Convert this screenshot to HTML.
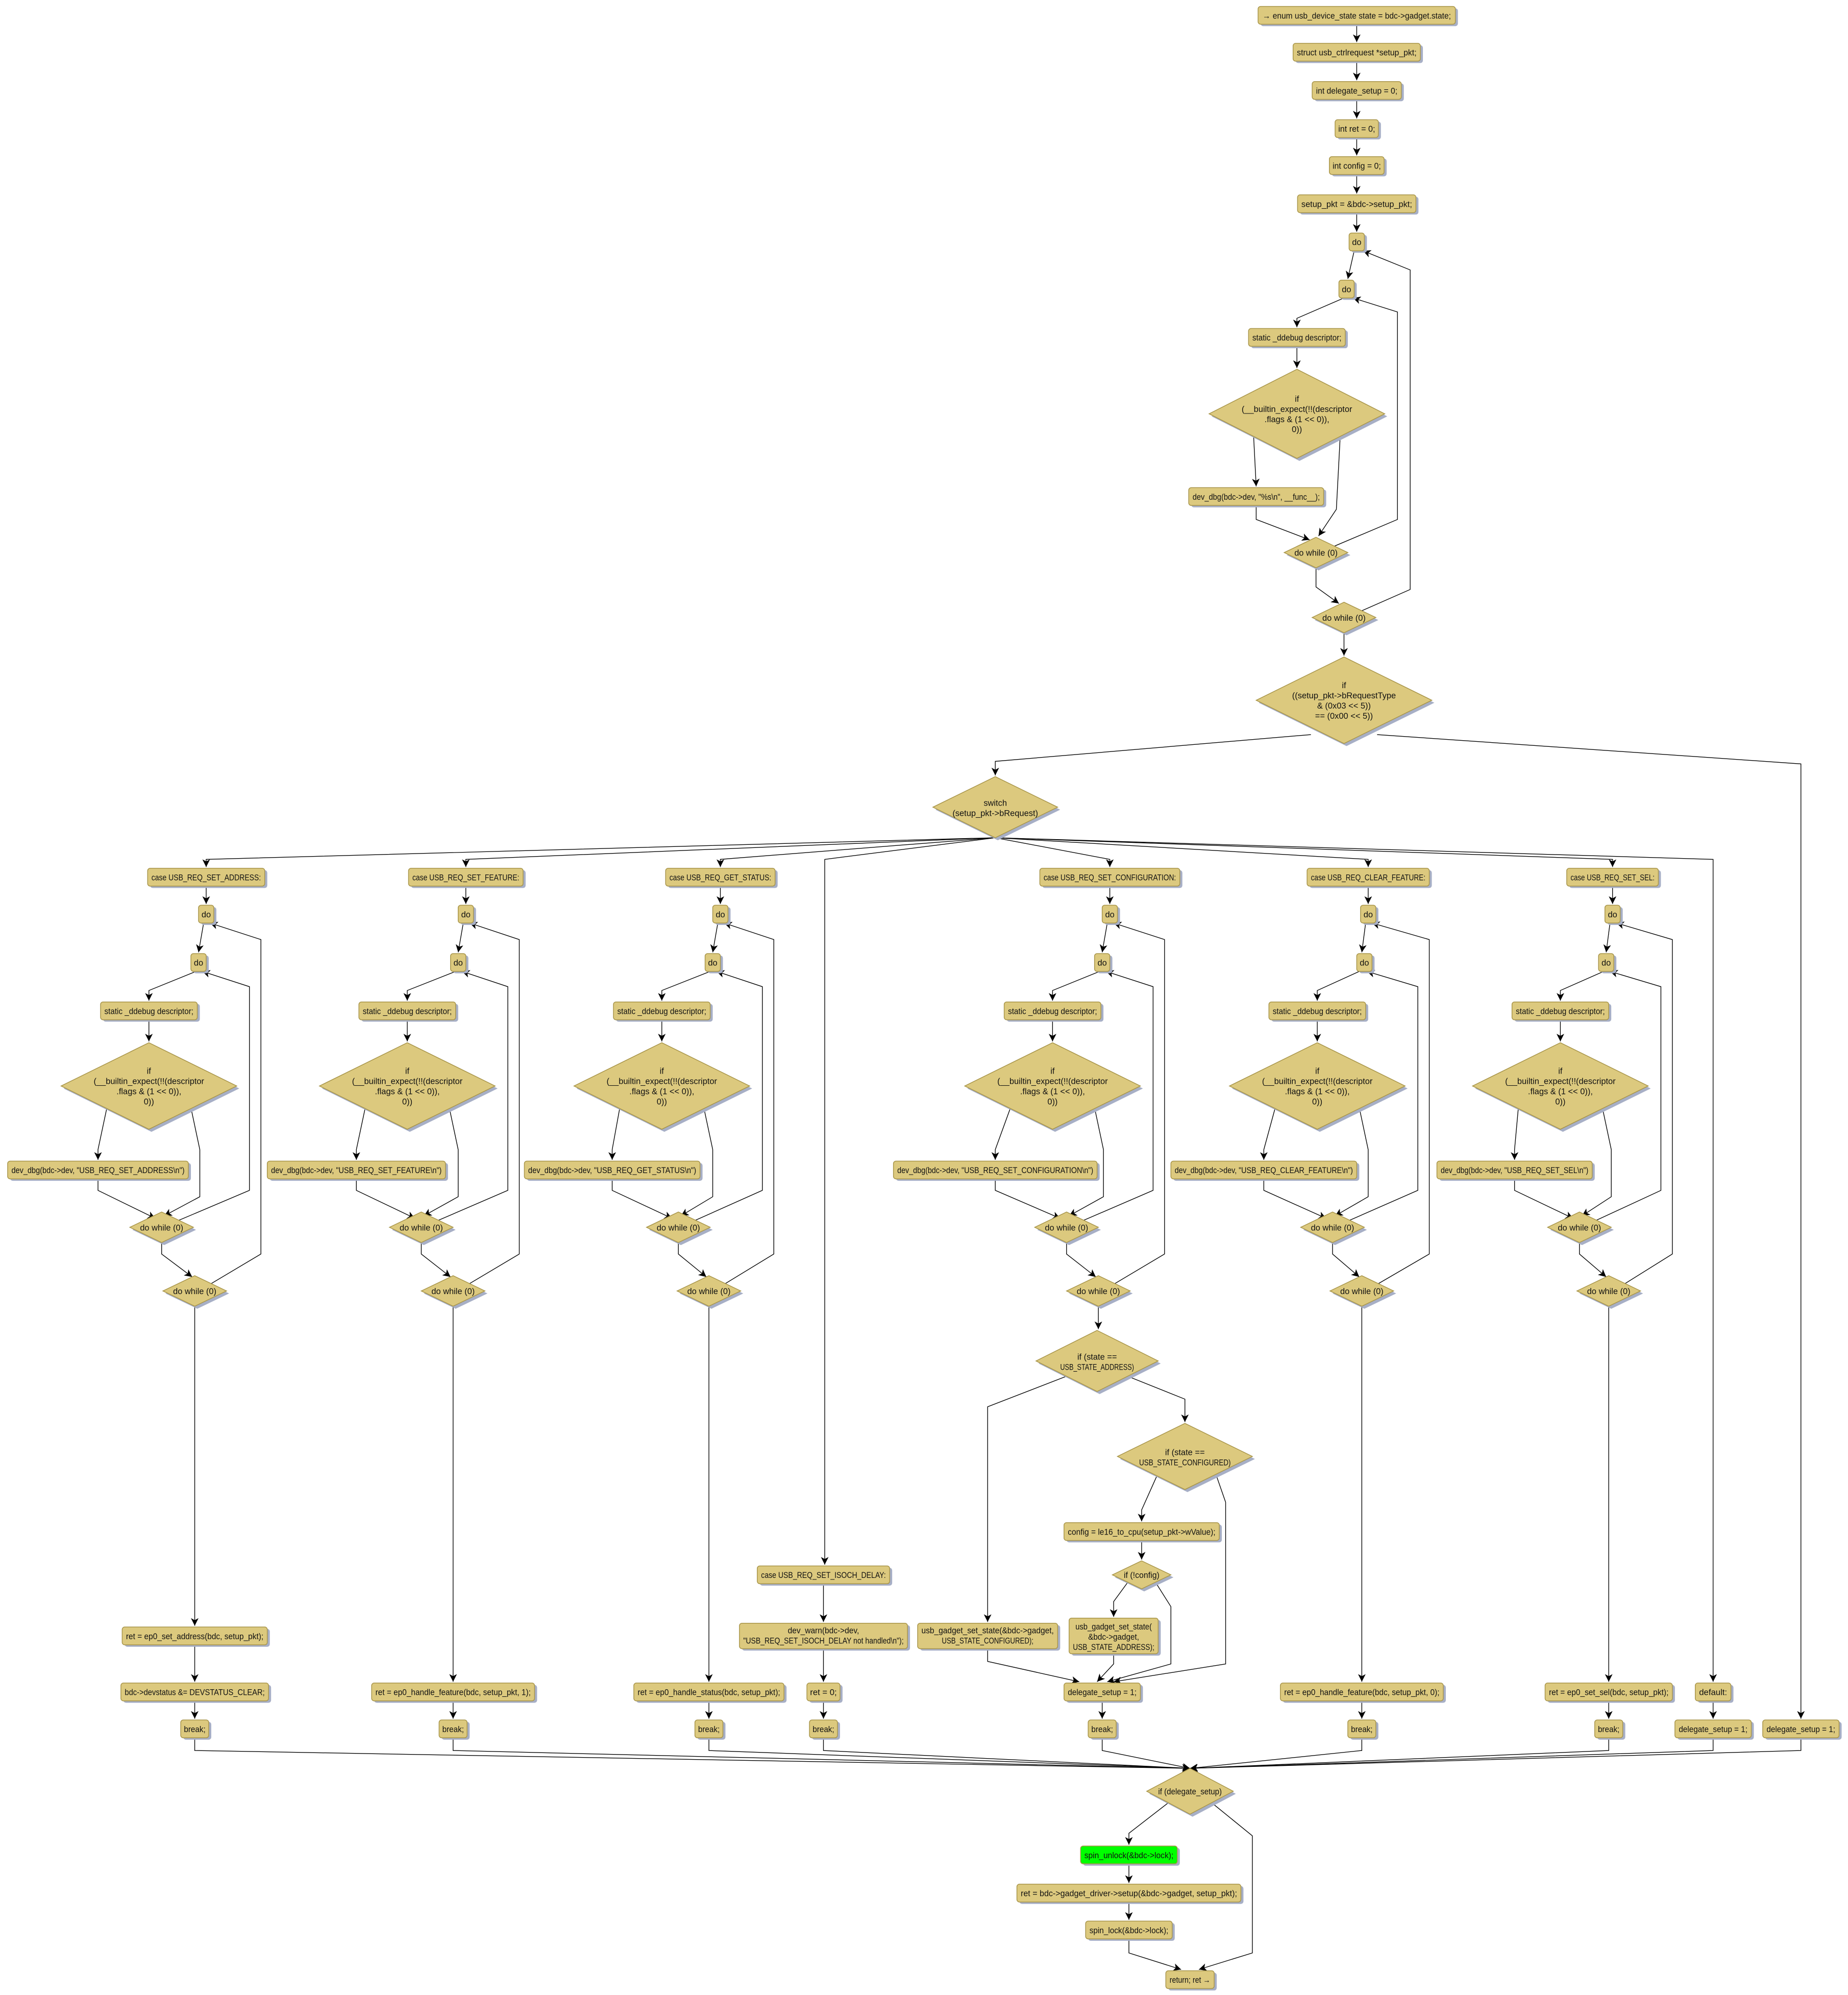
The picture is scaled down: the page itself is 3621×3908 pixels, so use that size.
<!DOCTYPE html>
<html><head><meta charset="utf-8">
<style>
html,body{margin:0;padding:0;background:#fff;}
svg{display:block;}
.b{fill:#dcc97e;stroke:#a8954a;stroke-width:0.6;}
.g{fill:#00ff00;stroke:#a8954a;stroke-width:0.6;}
.s{fill:#a7afc6;}
path{fill:none;stroke:#000;stroke-width:0.55;marker-end:url(#ar);}
path.n{marker-end:none;}
text{font-family:"Liberation Sans",sans-serif;font-size:6.6px;fill:#111;text-anchor:middle;}
</style></head><body>
<svg width="3621" height="3908" viewBox="0 0 1452 1567" xmlns="http://www.w3.org/2000/svg">
<defs><marker id="ar" markerUnits="userSpaceOnUse" markerWidth="7" markerHeight="6" refX="6" refY="3" orient="auto"><path d="M0,0 L6,3 L0,6 L1.6,3 z" style="fill:#000;stroke:none;marker-end:none"/></marker></defs>

<!-- EDGES main -->
<path d="M1066,19V33"/><path d="M1066,48V63"/><path d="M1066,78V93"/><path d="M1066,108V122"/><path d="M1066,137V152"/><path d="M1066,167V182"/>
<path d="M1064,197L1059,219"/><path d="M1056,234L1019,250V257"/><path d="M1019,272V289"/><path d="M985,343L987,382"/><path d="M1053,343L1050,400L1036,421"/><path d="M987,397V408L1029,424"/><path d="M1046,430L1098,408V245L1063,234"/><path d="M1034,446V461L1052,474"/><path d="M1067,481L1108,463V212L1071,197"/><path d="M1056,497V515"/><path d="M1030,577L782,598V609"/><path d="M1082,577L1415,600V1350"/>
<path d="M782,658L162,675V681"/><path d="M782,658L366,675V681"/><path d="M782,658L566,675V681"/><path d="M782,658L648,675V1229"/><path d="M782,658L872,675V681"/><path d="M782,658L1075,675V681"/><path d="M782,658L1267,675V681"/><path d="M782,658L1346,675V1321"/>
<!-- col A -->
<path d="M162,697V710"/><path d="M160,725L156,748"/><path d="M154,763L117,778V786"/><path d="M117,801V818"/><path d="M84,870L77,903V911"/><path d="M150,870L157,903V940L129,955"/><path d="M77,926V935L122,957"/><path d="M137,960L196,935V775L159,763"/><path d="M127,976V985L151,1003"/><path d="M163,1010L205,985V738L165,725"/><path d="M153,1026V1277"/><path d="M153,1292V1321"/><path d="M153,1336V1350"/>
<!-- col B -->
<path d="M366,697V710"/><path d="M364,725L360,748"/><path d="M358,763L320,778V786"/><path d="M320,801V818"/><path d="M287,870L280,903V911"/><path d="M353,870L360,903V940L333,955"/><path d="M280,926V935L326,957"/><path d="M341,960L399,935V775L363,763"/><path d="M331,976V985L354,1003"/><path d="M366,1010L408,985V738L369,725"/><path d="M356,1026V1321"/><path d="M356,1336V1350"/>
<!-- col C -->
<path d="M566,697V710"/><path d="M564,725L560,748"/><path d="M558,763L520,778V786"/><path d="M520,801V818"/><path d="M487,870L481,903V911"/><path d="M553,870L560,903V940L535,955"/><path d="M481,926V935L528,957"/><path d="M543,960L599,935V775L563,763"/><path d="M533,976V985L555,1003"/><path d="M567,1010L608,985V738L569,725"/><path d="M557,1026V1321"/><path d="M557,1336V1350"/>
<!-- col D -->
<path d="M647,1244V1274"/><path d="M647,1295V1321"/><path d="M647,1336V1350"/>
<!-- col E -->
<path d="M872,697V710"/><path d="M870,725L866,748"/><path d="M864,763L827,778V786"/><path d="M827,801V818"/><path d="M794,870L782,903V911"/><path d="M860,870L867,903V940L840,955"/><path d="M782,926V935L833,957"/><path d="M848,960L906,935V775L869,763"/><path d="M838,976V985L861,1003"/><path d="M873,1010L915,985V738L875,725"/><path d="M863,1026V1044"/>
<path d="M838,1081L776,1105V1274"/><path d="M886,1081L931,1099V1117"/><path d="M910,1157L897,1186V1195"/><path d="M897,1210V1225"/><path d="M886,1243L875,1258V1270"/><path d="M776,1295V1305L848,1321"/><path d="M875,1299V1307L862,1321"/><path d="M908,1243L920,1262V1307L870,1321"/><path d="M955,1157L963,1180V1307L875,1321"/><path d="M866,1336V1350"/>
<!-- col F -->
<path d="M1075,697V710"/><path d="M1073,725L1070,748"/><path d="M1068,763L1035,778V786"/><path d="M1035,801V818"/><path d="M1002,870L993,903V911"/><path d="M1068,870L1075,903V940L1049,955"/><path d="M993,926V935L1042,957"/><path d="M1057,960L1114,935V775L1074,763"/><path d="M1047,976V985L1068,1003"/><path d="M1080,1010L1123,985V738L1078,725"/><path d="M1070,1026V1321"/><path d="M1070,1336V1350"/>
<!-- col G -->
<path d="M1267,697V710"/><path d="M1265,725L1262,748"/><path d="M1260,763L1226,778V786"/><path d="M1226,801V818"/><path d="M1193,870L1190,903V911"/><path d="M1259,870L1266,903V940L1243,955"/><path d="M1190,926V935L1236,957"/><path d="M1251,960L1305,935V775L1265,763"/><path d="M1241,976V985L1262,1003"/><path d="M1274,1010L1314,985V738L1270,725"/><path d="M1264,1026V1321"/><path d="M1264,1336V1350"/>
<path d="M1346,1336V1350"/>
<!-- merge -->
<path d="M153,1365V1375L935,1389"/><path d="M356,1365V1375L935,1389"/><path d="M557,1365V1375L935,1389"/><path d="M647,1365V1375L935,1389"/><path d="M866,1365V1375L935,1389"/><path d="M1070,1365V1375L935,1389"/><path d="M1264,1365V1375L935,1389"/><path d="M1346,1365V1375L935,1389"/><path d="M1415,1365V1375L935,1389"/>
<path d="M918,1416L887,1440V1449"/><path d="M887,1464V1479"/><path d="M887,1494V1508"/><path d="M887,1523V1534L928,1547"/><path d="M952,1416L984,1442V1534L942,1547"/>

<!-- MAIN COLUMN -->
<g>
<rect class="s" x="990.5" y="6.5" width="155" height="14" rx="2"/><rect class="b" x="988.5" y="5" width="155" height="14" rx="2"/><text x="1066" y="14.5" textLength="148" lengthAdjust="spacingAndGlyphs">→ enum usb_device_state state = bdc-&gt;gadget.state;</text>
<rect class="s" x="1018" y="35.5" width="100" height="14" rx="2"/><rect class="b" x="1016" y="34" width="100" height="14" rx="2"/><text x="1066" y="43.5" textLength="94" lengthAdjust="spacingAndGlyphs">struct usb_ctrlrequest *setup_pkt;</text>
<rect class="s" x="1033" y="65.5" width="70" height="14" rx="2"/><rect class="b" x="1031" y="64" width="70" height="14" rx="2"/><text x="1066" y="73.5" textLength="64" lengthAdjust="spacingAndGlyphs">int delegate_setup = 0;</text>
<rect class="s" x="1051" y="95.5" width="34" height="14" rx="2"/><rect class="b" x="1049" y="94" width="34" height="14" rx="2"/><text x="1066" y="103.5" textLength="29" lengthAdjust="spacingAndGlyphs">int ret = 0;</text>
<rect class="s" x="1046.5" y="124.5" width="43" height="14" rx="2"/><rect class="b" x="1044.5" y="123" width="43" height="14" rx="2"/><text x="1066" y="132.5" textLength="38" lengthAdjust="spacingAndGlyphs">int config = 0;</text>
<rect class="s" x="1021.5" y="154.5" width="93" height="14" rx="2"/><rect class="b" x="1019.5" y="153" width="93" height="14" rx="2"/><text x="1066" y="162.5" textLength="87" lengthAdjust="spacingAndGlyphs">setup_pkt = &amp;bdc-&gt;setup_pkt;</text>
<rect class="s" x="1062" y="184.5" width="12" height="14" rx="2"/><rect class="b" x="1060" y="183" width="12" height="14" rx="2"/><text x="1066" y="192.5">do</text>
<rect class="s" x="1054" y="221.5" width="12" height="14" rx="2"/><rect class="b" x="1052" y="220" width="12" height="14" rx="2"/><text x="1058" y="229.5">do</text>
<rect class="s" x="983" y="259.5" width="76" height="14" rx="2"/><rect class="b" x="981" y="258" width="76" height="14" rx="2"/><text x="1019" y="267.5" textLength="70" lengthAdjust="spacingAndGlyphs">static _ddebug descriptor;</text>
<polygon class="s" points="1021,292 1090,327 1021,362 952,327"/><polygon class="b" points="1019,290 1088,325 1019,360 950,325"/>
<text x="1019" y="315.5">if</text><text x="1019" y="323.5">(__builtin_expect(!!(descriptor</text><text x="1019" y="331.5">.flags &amp; (1 &lt;&lt; 0)),</text><text x="1019" y="339.5">0))</text>
<rect class="s" x="936" y="384.5" width="106" height="14" rx="2"/><rect class="b" x="934" y="383" width="106" height="14" rx="2"/><text x="987" y="392.5" textLength="100" lengthAdjust="spacingAndGlyphs">dev_dbg(bdc-&gt;dev, "%s\n", __func__);</text>
<polygon class="s" points="1036,424 1061,436 1036,448 1011,436"/><polygon class="b" points="1034,422 1059,434 1034,446 1009,434"/><text x="1034" y="436.5" textLength="34" lengthAdjust="spacingAndGlyphs">do while (0)</text>
<polygon class="s" points="1058,475 1083,487 1058,499 1033,487"/><polygon class="b" points="1056,473 1081,485 1056,497 1031,485"/><text x="1056" y="487.5" textLength="34" lengthAdjust="spacingAndGlyphs">do while (0)</text>
<polygon class="s" points="1058,518 1127,552 1058,586 989,552"/><polygon class="b" points="1056,516 1125,550 1056,584 987,550"/>
<text x="1056" y="540.5">if</text><text x="1056" y="548.5">((setup_pkt-&gt;bRequestType</text><text x="1056" y="556.5">&amp; (0x03 &lt;&lt; 5))</text><text x="1056" y="564.5">== (0x00 &lt;&lt; 5))</text>
<polygon class="s" points="784,612 833,636 784,660 735,636"/><polygon class="b" points="782,610 831,634 782,658 733,634"/>
<text x="782" y="633">switch</text><text x="782" y="641">(setup_pkt-&gt;bRequest)</text>
</g>

<!-- COLUMN A -->
<g>
<rect class="s" x="118" y="683.5" width="92" height="14" rx="2"/><rect class="b" x="116" y="682" width="92" height="14" rx="2"/><text x="162" y="691.5" textLength="86" lengthAdjust="spacingAndGlyphs">case USB_REQ_SET_ADDRESS:</text>
<rect class="s" x="158" y="712.5" width="12" height="14" rx="2"/><rect class="b" x="156" y="711" width="12" height="14" rx="2"/><text x="162" y="720.5">do</text>
<rect class="s" x="152" y="750.5" width="12" height="14" rx="2"/><rect class="b" x="150" y="749" width="12" height="14" rx="2"/><text x="156" y="758.5">do</text>
<rect class="s" x="81" y="788.5" width="76" height="14" rx="2"/><rect class="b" x="79" y="787" width="76" height="14" rx="2"/><text x="117" y="796.5" textLength="70" lengthAdjust="spacingAndGlyphs">static _ddebug descriptor;</text>
<polygon class="s" points="119,821 188,855 119,889 50,855"/><polygon class="b" points="117,819 186,853 117,887 48,853"/>
<text x="117" y="843.5">if</text><text x="117" y="851.5">(__builtin_expect(!!(descriptor</text><text x="117" y="859.5">.flags &amp; (1 &lt;&lt; 0)),</text><text x="117" y="867.5">0))</text>
<rect class="s" x="8" y="913.5" width="142" height="14" rx="2"/><rect class="b" x="6" y="912" width="142" height="14" rx="2"/><text x="77" y="921.5" textLength="136" lengthAdjust="spacingAndGlyphs">dev_dbg(bdc-&gt;dev, "USB_REQ_SET_ADDRESS\n")</text>
<polygon class="s" points="129,954 154,966 129,978 104,966"/><polygon class="b" points="127,952 152,964 127,976 102,964"/><text x="127" y="966.5" textLength="34" lengthAdjust="spacingAndGlyphs">do while (0)</text>
<polygon class="s" points="155,1004 180,1016 155,1028 130,1016"/><polygon class="b" points="153,1002 178,1014 153,1026 128,1014"/><text x="153" y="1016.5" textLength="34" lengthAdjust="spacingAndGlyphs">do while (0)</text>
<rect class="s" x="98" y="1279.5" width="114" height="14" rx="2"/><rect class="b" x="96" y="1278" width="114" height="14" rx="2"/><text x="153" y="1287.5" textLength="108" lengthAdjust="spacingAndGlyphs">ret = ep0_set_address(bdc, setup_pkt);</text>
<rect class="s" x="97" y="1323.5" width="116" height="14" rx="2"/><rect class="b" x="95" y="1322" width="116" height="14" rx="2"/><text x="153" y="1331.5" textLength="110" lengthAdjust="spacingAndGlyphs">bdc-&gt;devstatus &amp;= DEVSTATUS_CLEAR;</text>
<rect class="s" x="144" y="1352.5" width="22" height="14" rx="2"/><rect class="b" x="142" y="1351" width="22" height="14" rx="2"/><text x="153" y="1360.5" textLength="17" lengthAdjust="spacingAndGlyphs">break;</text>
</g>

<!-- COLUMN B -->
<g>
<rect class="s" x="323" y="683.5" width="90" height="14" rx="2"/><rect class="b" x="321" y="682" width="90" height="14" rx="2"/><text x="366" y="691.5" textLength="84" lengthAdjust="spacingAndGlyphs">case USB_REQ_SET_FEATURE:</text>
<rect class="s" x="362" y="712.5" width="12" height="14" rx="2"/><rect class="b" x="360" y="711" width="12" height="14" rx="2"/><text x="366" y="720.5">do</text>
<rect class="s" x="356" y="750.5" width="12" height="14" rx="2"/><rect class="b" x="354" y="749" width="12" height="14" rx="2"/><text x="360" y="758.5">do</text>
<rect class="s" x="284" y="788.5" width="76" height="14" rx="2"/><rect class="b" x="282" y="787" width="76" height="14" rx="2"/><text x="320" y="796.5" textLength="70" lengthAdjust="spacingAndGlyphs">static _ddebug descriptor;</text>
<polygon class="s" points="322,821 391,855 322,889 253,855"/><polygon class="b" points="320,819 389,853 320,887 251,853"/>
<text x="320" y="843.5">if</text><text x="320" y="851.5">(__builtin_expect(!!(descriptor</text><text x="320" y="859.5">.flags &amp; (1 &lt;&lt; 0)),</text><text x="320" y="867.5">0))</text>
<rect class="s" x="212" y="913.5" width="140" height="14" rx="2"/><rect class="b" x="210" y="912" width="140" height="14" rx="2"/><text x="280" y="921.5" textLength="134" lengthAdjust="spacingAndGlyphs">dev_dbg(bdc-&gt;dev, "USB_REQ_SET_FEATURE\n")</text>
<polygon class="s" points="333,954 358,966 333,978 308,966"/><polygon class="b" points="331,952 356,964 331,976 306,964"/><text x="331" y="966.5" textLength="34" lengthAdjust="spacingAndGlyphs">do while (0)</text>
<polygon class="s" points="358,1004 383,1016 358,1028 333,1016"/><polygon class="b" points="356,1002 381,1014 356,1026 331,1014"/><text x="356" y="1016.5" textLength="34" lengthAdjust="spacingAndGlyphs">do while (0)</text>
<rect class="s" x="294" y="1323.5" width="128" height="14" rx="2"/><rect class="b" x="292" y="1322" width="128" height="14" rx="2"/><text x="356" y="1331.5" textLength="122" lengthAdjust="spacingAndGlyphs">ret = ep0_handle_feature(bdc, setup_pkt, 1);</text>
<rect class="s" x="347" y="1352.5" width="22" height="14" rx="2"/><rect class="b" x="345" y="1351" width="22" height="14" rx="2"/><text x="356" y="1360.5" textLength="17" lengthAdjust="spacingAndGlyphs">break;</text>
</g>

<!-- COLUMN C -->
<g>
<rect class="s" x="525" y="683.5" width="86" height="14" rx="2"/><rect class="b" x="523" y="682" width="86" height="14" rx="2"/><text x="566" y="691.5" textLength="80" lengthAdjust="spacingAndGlyphs">case USB_REQ_GET_STATUS:</text>
<rect class="s" x="562" y="712.5" width="12" height="14" rx="2"/><rect class="b" x="560" y="711" width="12" height="14" rx="2"/><text x="566" y="720.5">do</text>
<rect class="s" x="556" y="750.5" width="12" height="14" rx="2"/><rect class="b" x="554" y="749" width="12" height="14" rx="2"/><text x="560" y="758.5">do</text>
<rect class="s" x="484" y="788.5" width="76" height="14" rx="2"/><rect class="b" x="482" y="787" width="76" height="14" rx="2"/><text x="520" y="796.5" textLength="70" lengthAdjust="spacingAndGlyphs">static _ddebug descriptor;</text>
<polygon class="s" points="522,821 591,855 522,889 453,855"/><polygon class="b" points="520,819 589,853 520,887 451,853"/>
<text x="520" y="843.5">if</text><text x="520" y="851.5">(__builtin_expect(!!(descriptor</text><text x="520" y="859.5">.flags &amp; (1 &lt;&lt; 0)),</text><text x="520" y="867.5">0))</text>
<rect class="s" x="414" y="913.5" width="138" height="14" rx="2"/><rect class="b" x="412" y="912" width="138" height="14" rx="2"/><text x="481" y="921.5" textLength="132" lengthAdjust="spacingAndGlyphs">dev_dbg(bdc-&gt;dev, "USB_REQ_GET_STATUS\n")</text>
<polygon class="s" points="535,954 560,966 535,978 510,966"/><polygon class="b" points="533,952 558,964 533,976 508,964"/><text x="533" y="966.5" textLength="34" lengthAdjust="spacingAndGlyphs">do while (0)</text>
<polygon class="s" points="559,1004 584,1016 559,1028 534,1016"/><polygon class="b" points="557,1002 582,1014 557,1026 532,1014"/><text x="557" y="1016.5" textLength="34" lengthAdjust="spacingAndGlyphs">do while (0)</text>
<rect class="s" x="500" y="1323.5" width="118" height="14" rx="2"/><rect class="b" x="498" y="1322" width="118" height="14" rx="2"/><text x="557" y="1331.5" textLength="112" lengthAdjust="spacingAndGlyphs">ret = ep0_handle_status(bdc, setup_pkt);</text>
<rect class="s" x="548" y="1352.5" width="22" height="14" rx="2"/><rect class="b" x="546" y="1351" width="22" height="14" rx="2"/><text x="557" y="1360.5" textLength="17" lengthAdjust="spacingAndGlyphs">break;</text>
</g>

<!-- COLUMN D -->
<g>
<rect class="s" x="597" y="1231.5" width="104" height="14" rx="2"/><rect class="b" x="595" y="1230" width="104" height="14" rx="2"/><text x="647" y="1239.5" textLength="98" lengthAdjust="spacingAndGlyphs">case USB_REQ_SET_ISOCH_DELAY:</text>
<rect class="s" x="583" y="1276.5" width="132" height="20" rx="2"/><rect class="b" x="581" y="1275" width="132" height="20" rx="2"/><text x="647" y="1283" textLength="56" lengthAdjust="spacingAndGlyphs">dev_warn(bdc-&gt;dev,</text><text x="647" y="1291" textLength="126" lengthAdjust="spacingAndGlyphs">"USB_REQ_SET_ISOCH_DELAY not handled\n");</text>
<rect class="s" x="636" y="1323.5" width="26" height="14" rx="2"/><rect class="b" x="634" y="1322" width="26" height="14" rx="2"/><text x="647" y="1331.5" textLength="21" lengthAdjust="spacingAndGlyphs">ret = 0;</text>
<rect class="s" x="638" y="1352.5" width="22" height="14" rx="2"/><rect class="b" x="636" y="1351" width="22" height="14" rx="2"/><text x="647" y="1360.5" textLength="17" lengthAdjust="spacingAndGlyphs">break;</text>
</g>

<!-- COLUMN E -->
<g>
<rect class="s" x="819" y="683.5" width="110" height="14" rx="2"/><rect class="b" x="817" y="682" width="110" height="14" rx="2"/><text x="872" y="691.5" textLength="104" lengthAdjust="spacingAndGlyphs">case USB_REQ_SET_CONFIGURATION:</text>
<rect class="s" x="868" y="712.5" width="12" height="14" rx="2"/><rect class="b" x="866" y="711" width="12" height="14" rx="2"/><text x="872" y="720.5">do</text>
<rect class="s" x="862" y="750.5" width="12" height="14" rx="2"/><rect class="b" x="860" y="749" width="12" height="14" rx="2"/><text x="866" y="758.5">do</text>
<rect class="s" x="791" y="788.5" width="76" height="14" rx="2"/><rect class="b" x="789" y="787" width="76" height="14" rx="2"/><text x="827" y="796.5" textLength="70" lengthAdjust="spacingAndGlyphs">static _ddebug descriptor;</text>
<polygon class="s" points="829,821 898,855 829,889 760,855"/><polygon class="b" points="827,819 896,853 827,887 758,853"/>
<text x="827" y="843.5">if</text><text x="827" y="851.5">(__builtin_expect(!!(descriptor</text><text x="827" y="859.5">.flags &amp; (1 &lt;&lt; 0)),</text><text x="827" y="867.5">0))</text>
<rect class="s" x="704" y="913.5" width="160" height="14" rx="2"/><rect class="b" x="702" y="912" width="160" height="14" rx="2"/><text x="782" y="921.5" textLength="154" lengthAdjust="spacingAndGlyphs">dev_dbg(bdc-&gt;dev, "USB_REQ_SET_CONFIGURATION\n")</text>
<polygon class="s" points="840,954 865,966 840,978 815,966"/><polygon class="b" points="838,952 863,964 838,976 813,964"/><text x="838" y="966.5" textLength="34" lengthAdjust="spacingAndGlyphs">do while (0)</text>
<polygon class="s" points="865,1004 890,1016 865,1028 840,1016"/><polygon class="b" points="863,1002 888,1014 863,1026 838,1014"/><text x="863" y="1016.5" textLength="34" lengthAdjust="spacingAndGlyphs">do while (0)</text>
<polygon class="s" points="864,1047 912,1071 864,1095 816,1071"/><polygon class="b" points="862,1045 910,1069 862,1093 814,1069"/>
<text x="862" y="1068">if (state ==</text><text x="862" y="1076" textLength="58" lengthAdjust="spacingAndGlyphs">USB_STATE_ADDRESS)</text>
<polygon class="s" points="933,1120 986,1146 933,1172 880,1146"/><polygon class="b" points="931,1118 984,1144 931,1170 878,1144"/>
<text x="931" y="1143">if (state ==</text><text x="931" y="1151" textLength="72" lengthAdjust="spacingAndGlyphs">USB_STATE_CONFIGURED)</text>
<rect class="s" x="838" y="1197.5" width="122" height="14" rx="2"/><rect class="b" x="836" y="1196" width="122" height="14" rx="2"/><text x="897" y="1205.5" textLength="116" lengthAdjust="spacingAndGlyphs">config = le16_to_cpu(setup_pkt-&gt;wValue);</text>
<polygon class="s" points="899,1228 922,1239 899,1250 876,1239"/><polygon class="b" points="897,1226 920,1237 897,1248 874,1237"/><text x="897" y="1239.5" textLength="28" lengthAdjust="spacingAndGlyphs">if (!config)</text>
<rect class="s" x="723" y="1276.5" width="110" height="20" rx="2"/><rect class="b" x="721" y="1275" width="110" height="20" rx="2"/><text x="776" y="1283" textLength="104" lengthAdjust="spacingAndGlyphs">usb_gadget_set_state(&amp;bdc-&gt;gadget,</text><text x="776" y="1291" textLength="72" lengthAdjust="spacingAndGlyphs">USB_STATE_CONFIGURED);</text>
<rect class="s" x="842" y="1272.5" width="70" height="28" rx="2"/><rect class="b" x="840" y="1271" width="70" height="28" rx="2"/><text x="875" y="1280" textLength="60" lengthAdjust="spacingAndGlyphs">usb_gadget_set_state(</text><text x="875" y="1288" textLength="40" lengthAdjust="spacingAndGlyphs">&amp;bdc-&gt;gadget,</text><text x="875" y="1296" textLength="64" lengthAdjust="spacingAndGlyphs">USB_STATE_ADDRESS);</text>
<rect class="s" x="838" y="1323.5" width="60" height="14" rx="2"/><rect class="b" x="836" y="1322" width="60" height="14" rx="2"/><text x="866" y="1331.5" textLength="54" lengthAdjust="spacingAndGlyphs">delegate_setup = 1;</text>
<rect class="s" x="857" y="1352.5" width="22" height="14" rx="2"/><rect class="b" x="855" y="1351" width="22" height="14" rx="2"/><text x="866" y="1360.5" textLength="17" lengthAdjust="spacingAndGlyphs">break;</text>
</g>

<!-- COLUMN F -->
<g>
<rect class="s" x="1029" y="683.5" width="96" height="14" rx="2"/><rect class="b" x="1027" y="682" width="96" height="14" rx="2"/><text x="1075" y="691.5" textLength="90" lengthAdjust="spacingAndGlyphs">case USB_REQ_CLEAR_FEATURE:</text>
<rect class="s" x="1071" y="712.5" width="12" height="14" rx="2"/><rect class="b" x="1069" y="711" width="12" height="14" rx="2"/><text x="1075" y="720.5">do</text>
<rect class="s" x="1068" y="750.5" width="12" height="14" rx="2"/><rect class="b" x="1066" y="749" width="12" height="14" rx="2"/><text x="1072" y="758.5">do</text>
<rect class="s" x="999" y="788.5" width="76" height="14" rx="2"/><rect class="b" x="997" y="787" width="76" height="14" rx="2"/><text x="1035" y="796.5" textLength="70" lengthAdjust="spacingAndGlyphs">static _ddebug descriptor;</text>
<polygon class="s" points="1037,821 1106,855 1037,889 968,855"/><polygon class="b" points="1035,819 1104,853 1035,887 966,853"/>
<text x="1035" y="843.5">if</text><text x="1035" y="851.5">(__builtin_expect(!!(descriptor</text><text x="1035" y="859.5">.flags &amp; (1 &lt;&lt; 0)),</text><text x="1035" y="867.5">0))</text>
<rect class="s" x="922" y="913.5" width="146" height="14" rx="2"/><rect class="b" x="920" y="912" width="146" height="14" rx="2"/><text x="993" y="921.5" textLength="140" lengthAdjust="spacingAndGlyphs">dev_dbg(bdc-&gt;dev, "USB_REQ_CLEAR_FEATURE\n")</text>
<polygon class="s" points="1049,954 1074,966 1049,978 1024,966"/><polygon class="b" points="1047,952 1072,964 1047,976 1022,964"/><text x="1047" y="966.5" textLength="34" lengthAdjust="spacingAndGlyphs">do while (0)</text>
<polygon class="s" points="1072,1004 1097,1016 1072,1028 1047,1016"/><polygon class="b" points="1070,1002 1095,1014 1070,1026 1045,1014"/><text x="1070" y="1016.5" textLength="34" lengthAdjust="spacingAndGlyphs">do while (0)</text>
<rect class="s" x="1008" y="1323.5" width="128" height="14" rx="2"/><rect class="b" x="1006" y="1322" width="128" height="14" rx="2"/><text x="1070" y="1331.5" textLength="122" lengthAdjust="spacingAndGlyphs">ret = ep0_handle_feature(bdc, setup_pkt, 0);</text>
<rect class="s" x="1061" y="1352.5" width="22" height="14" rx="2"/><rect class="b" x="1059" y="1351" width="22" height="14" rx="2"/><text x="1070" y="1360.5" textLength="17" lengthAdjust="spacingAndGlyphs">break;</text>
</g>

<!-- COLUMN G -->
<g>
<rect class="s" x="1233" y="683.5" width="72" height="14" rx="2"/><rect class="b" x="1231" y="682" width="72" height="14" rx="2"/><text x="1267" y="691.5" textLength="66" lengthAdjust="spacingAndGlyphs">case USB_REQ_SET_SEL:</text>
<rect class="s" x="1263" y="712.5" width="12" height="14" rx="2"/><rect class="b" x="1261" y="711" width="12" height="14" rx="2"/><text x="1267" y="720.5">do</text>
<rect class="s" x="1258" y="750.5" width="12" height="14" rx="2"/><rect class="b" x="1256" y="749" width="12" height="14" rx="2"/><text x="1262" y="758.5">do</text>
<rect class="s" x="1190" y="788.5" width="76" height="14" rx="2"/><rect class="b" x="1188" y="787" width="76" height="14" rx="2"/><text x="1226" y="796.5" textLength="70" lengthAdjust="spacingAndGlyphs">static _ddebug descriptor;</text>
<polygon class="s" points="1228,821 1297,855 1228,889 1159,855"/><polygon class="b" points="1226,819 1295,853 1226,887 1157,853"/>
<text x="1226" y="843.5">if</text><text x="1226" y="851.5">(__builtin_expect(!!(descriptor</text><text x="1226" y="859.5">.flags &amp; (1 &lt;&lt; 0)),</text><text x="1226" y="867.5">0))</text>
<rect class="s" x="1131" y="913.5" width="122" height="14" rx="2"/><rect class="b" x="1129" y="912" width="122" height="14" rx="2"/><text x="1190" y="921.5" textLength="116" lengthAdjust="spacingAndGlyphs">dev_dbg(bdc-&gt;dev, "USB_REQ_SET_SEL\n")</text>
<polygon class="s" points="1243,954 1268,966 1243,978 1218,966"/><polygon class="b" points="1241,952 1266,964 1241,976 1216,964"/><text x="1241" y="966.5" textLength="34" lengthAdjust="spacingAndGlyphs">do while (0)</text>
<polygon class="s" points="1266,1004 1291,1016 1266,1028 1241,1016"/><polygon class="b" points="1264,1002 1289,1014 1264,1026 1239,1014"/><text x="1264" y="1016.5" textLength="34" lengthAdjust="spacingAndGlyphs">do while (0)</text>
<rect class="s" x="1216" y="1323.5" width="100" height="14" rx="2"/><rect class="b" x="1214" y="1322" width="100" height="14" rx="2"/><text x="1264" y="1331.5" textLength="94" lengthAdjust="spacingAndGlyphs">ret = ep0_set_sel(bdc, setup_pkt);</text>
<rect class="s" x="1255" y="1352.5" width="22" height="14" rx="2"/><rect class="b" x="1253" y="1351" width="22" height="14" rx="2"/><text x="1264" y="1360.5" textLength="17" lengthAdjust="spacingAndGlyphs">break;</text>
</g>

<!-- COLUMNS H, I -->
<g>
<rect class="s" x="1334" y="1323.5" width="28" height="14" rx="2"/><rect class="b" x="1332" y="1322" width="28" height="14" rx="2"/><text x="1346" y="1331.5" textLength="22" lengthAdjust="spacingAndGlyphs">default:</text>
<rect class="s" x="1318" y="1352.5" width="60" height="14" rx="2"/><rect class="b" x="1316" y="1351" width="60" height="14" rx="2"/><text x="1346" y="1360.5" textLength="54" lengthAdjust="spacingAndGlyphs">delegate_setup = 1;</text>
<rect class="s" x="1387" y="1352.5" width="60" height="14" rx="2"/><rect class="b" x="1385" y="1351" width="60" height="14" rx="2"/><text x="1415" y="1360.5" textLength="54" lengthAdjust="spacingAndGlyphs">delegate_setup = 1;</text>
</g>

<!-- BOTTOM -->
<g>
<polygon class="s" points="937,1391 971,1409 937,1427 903,1409"/><polygon class="b" points="935,1389 969,1407 935,1425 901,1407"/><text x="935" y="1409.5" textLength="50" lengthAdjust="spacingAndGlyphs">if (delegate_setup)</text>
<rect class="s" x="851" y="1451.5" width="76" height="14" rx="2"/><rect class="g" x="849" y="1450" width="76" height="14" rx="2"/><text x="887" y="1459.5" textLength="70" lengthAdjust="spacingAndGlyphs">spin_unlock(&amp;bdc-&gt;lock);</text>
<rect class="s" x="801" y="1481.5" width="176" height="14" rx="2"/><rect class="b" x="799" y="1480" width="176" height="14" rx="2"/><text x="887" y="1489.5" textLength="170" lengthAdjust="spacingAndGlyphs">ret = bdc-&gt;gadget_driver-&gt;setup(&amp;bdc-&gt;gadget, setup_pkt);</text>
<rect class="s" x="855" y="1510.5" width="68" height="14" rx="2"/><rect class="b" x="853" y="1509" width="68" height="14" rx="2"/><text x="887" y="1518.5" textLength="62" lengthAdjust="spacingAndGlyphs">spin_lock(&amp;bdc-&gt;lock);</text>
<rect class="s" x="918" y="1549.5" width="38" height="14" rx="2"/><rect class="b" x="916" y="1548" width="38" height="14" rx="2"/><text x="935" y="1557.5" textLength="32" lengthAdjust="spacingAndGlyphs">return; ret →</text>
</g>
</svg>
</body></html>
